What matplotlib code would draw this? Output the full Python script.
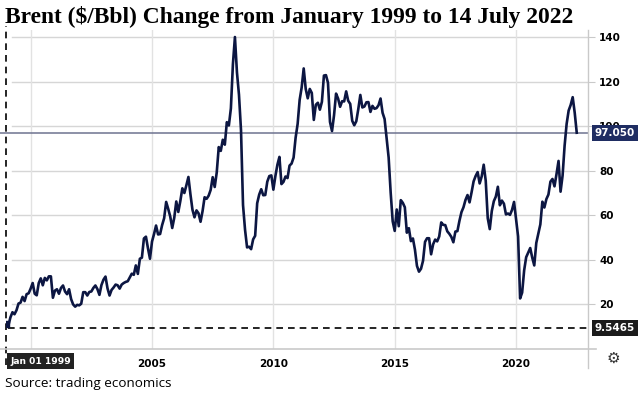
# Brent crude, monthly closes, Jan 1999 - 14 Jul 2022 (tradingeconomics style chart)
import matplotlib.pyplot as plt
from matplotlib.lines import Line2D
from matplotlib.transforms import blended_transform_factory
import numpy as np

# monthly values, one list per six years
brent_1999_2004 = [11.0, 10.6, 14.2, 16.5, 15.6, 17.4, 20.4, 20.8, 23.4, 21.5, 24.6, 25.0,
                   27.1, 29.6, 24.8, 24.1, 29.6, 31.7, 28.6, 31.9, 30.8, 32.6, 32.6, 23.0,
                   26.2, 26.8, 24.8, 27.4, 28.5, 25.8, 24.6, 26.8, 22.4, 20.0, 19.0, 19.8,
                   19.6, 20.3, 25.5, 25.5, 24.0, 25.6, 25.8, 27.4, 28.5, 26.9, 24.3, 28.7,
                   31.1, 32.5, 27.2, 24.0, 26.5, 27.6, 28.9, 28.6, 27.1, 28.9, 29.6, 30.1,
                   30.4, 32.1, 33.8, 33.3, 37.5, 33.7, 40.5, 41.0, 49.6, 50.4, 45.2, 40.5]
brent_2005_2010 = [48.2, 51.6, 55.4, 51.4, 51.6, 55.6, 58.7, 66.0, 62.9, 59.5, 54.3, 58.9,
                   66.2, 61.5, 66.4, 72.1, 70.0, 73.5, 77.2, 69.4, 62.5, 59.1, 62.2, 60.9,
                   57.1, 61.9, 68.1, 67.4, 68.8, 71.4, 77.1, 72.7, 79.2, 90.6, 88.9, 93.9,
                   91.7, 101.8, 100.3, 108.0, 127.8, 140.0, 124.1, 114.1, 98.2, 64.6, 53.5, 45.6,
                   45.9, 44.8, 49.2, 50.8, 65.4, 69.3, 71.7, 69.0, 69.1, 75.1, 77.6, 77.9,
                   71.5, 77.6, 82.7, 86.2, 74.0, 75.0, 77.4, 76.7, 82.3, 83.2, 85.9, 94.8]
brent_2011_2016 = [101.0, 111.8, 117.4, 125.9, 116.7, 112.5, 116.7, 114.9, 102.8, 109.6, 110.5, 107.4,
                   110.9, 122.7, 122.9, 119.5, 101.9, 97.8, 104.9, 114.6, 112.4, 108.7, 111.2, 111.1,
                   115.6, 111.4, 110.0, 102.4, 100.4, 102.2, 107.7, 114.0, 108.4, 108.8, 110.7, 110.8,
                   106.4, 109.1, 107.8, 108.1, 109.4, 112.4, 106.0, 103.2, 94.7, 85.9, 70.2, 57.3,
                   53.0, 62.6, 55.1, 66.8, 65.6, 63.6, 52.2, 54.2, 48.4, 49.6, 44.6, 37.3,
                   34.7, 36.0, 39.6, 48.1, 49.7, 49.7, 42.5, 47.0, 49.1, 48.3, 50.5, 56.8]
brent_2017_2022 = [55.7, 55.6, 52.8, 51.7, 50.3, 47.9, 52.7, 52.9, 57.5, 61.4, 63.6, 66.9,
                   69.1, 65.8, 70.3, 75.2, 77.6, 79.4, 74.3, 77.4, 82.7, 75.5, 58.7, 53.8,
                   61.9, 66.3, 68.4, 72.8, 64.5, 66.6, 65.2, 60.4, 60.8, 60.2, 62.4, 66.0,
                   58.2, 50.5, 22.7, 25.3, 35.3, 41.2, 43.3, 45.3, 41.0, 37.5, 47.6, 51.8,
                   55.9, 66.1, 63.5, 67.3, 69.3, 75.1, 76.3, 73.0, 78.5, 84.4, 70.6, 77.8,
                   91.2, 101.0, 107.0, 109.5, 113.0, 106.0, 97.05]

start_year = 1999
last_price = 97.050
low_mark = 9.5465
y_ticks = [20, 40, 60, 80, 100, 120, 140]
x_ticks = [2005, 2010, 2015, 2020]
x_grid = [2000, 2005, 2010, 2015, 2020]

prices = np.array(brent_1999_2004 + brent_2005_2010 + brent_2011_2016 + brent_2017_2022)
t = start_year + np.arange(len(prices)) / 12.0

W, H = 640, 393
navy = '#0c1642'
grey = '#c9c9c9'

fig = plt.figure(figsize=(W / 100, H / 100), dpi=100)
ax = fig.add_axes([6 / W, 1 - 349 / H, 582 / W, 319 / H])
ax.set_xlim(1998.984, 2022.964)
ax.set_ylim(0, 143.15)
for s in ax.spines.values():
    s.set_visible(False)

# grid
for v in y_ticks:
    ax.axhline(v, xmin=0.01, xmax=1, color='#d6d6d6', lw=1, zorder=0)
for v in x_grid:
    ax.axvline(v, color='#e2e2e2', lw=1, zorder=0)

# frame lines (right + bottom)
fig.add_artist(Line2D([588 / W, 588 / W], [1 - 30 / H, 1 - 368 / H], color=grey, lw=1))
fig.add_artist(Line2D([0, 596 / W], [1 - 349 / H, 1 - 349 / H], color=grey, lw=1.2))

ax.yaxis.tick_right()
ax.set_yticks(y_ticks)
ax.set_xticks(x_ticks)
ax.tick_params(axis='y', length=5, color=grey, pad=3, labelsize=7.5)
ax.tick_params(axis='x', length=0, pad=7, labelsize=7.5)
for lab in ax.get_yticklabels() + ax.get_xticklabels():
    lab.set_fontweight('bold')

# reference lines
ax.axhline(last_price, xmin=-0.01, xmax=1.0, color='#6d7390', lw=1.1, clip_on=False, zorder=1)
ax.axhline(low_mark, xmin=0.003, xmax=1.0, color='k', lw=1.2, ls=(0, (4, 3)), zorder=2)
ax.axvline(t[0], ymin=-0.05, ymax=1.012, color='k', lw=1.2, ls=(0, (4, 3)), clip_on=False, zorder=2)

# price series
ax.plot(t, prices, color=navy, lw=1.9, zorder=3, solid_joinstyle='round')
ax.plot(t[0], prices[0], 's', ms=5, color=navy, zorder=4)

# value boxes
tr = blended_transform_factory(ax.transAxes, ax.transData)
ax.text(1.012, last_price, '%.3f' % last_price, transform=tr, color='white', fontsize=7.5,
        fontweight='bold', va='center', ha='left', clip_on=False, zorder=5,
        bbox=dict(boxstyle='square,pad=0.3', fc='#1f2d62', ec='none'))
ax.text(1.012, low_mark, '%.4f' % low_mark, transform=tr, color='white', fontsize=7.5,
        fontweight='bold', va='center', ha='left', clip_on=False, zorder=5,
        bbox=dict(boxstyle='square,pad=0.3', fc='#1b1b1b', ec='none'))
tr2 = blended_transform_factory(ax.transData, fig.transFigure)
ax.text(t[0] + 0.15, 1 - 361 / H, 'Jan 01 1999', transform=tr2, color='white', fontsize=6.6,
        fontweight='bold', va='center', ha='left', clip_on=False, zorder=5,
        bbox=dict(boxstyle='square,pad=0.35', fc='#222222', ec='none'))

fig.text(613 / W, 1 - 358 / H, '\u2699', fontsize=11, color='#333333', ha='center', va='center')

fig.text(5 / W, 1 - 17 / H, 'Brent ($/Bbl) Change from January 1999 to 14 July 2022',
         fontfamily='Liberation Serif', fontweight='bold', fontsize=16.9, va='center', ha='left')
fig.text(5 / W, 1 - 384 / H, 'Source: trading economics', fontfamily='Open Sans',
         fontsize=9.7, va='center', ha='left')

fig.savefig('out.png', dpi=100)
